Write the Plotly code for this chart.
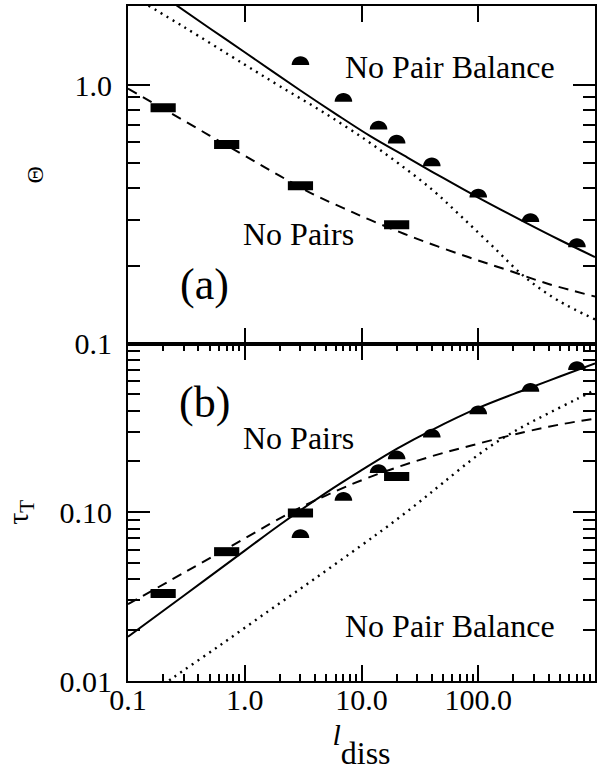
import plotly.graph_objects as go

# ---------------- data ----------------
# panel (a): Theta versus l_diss
theta_solid_x = [0.2, 0.5, 1, 3, 6, 12, 25, 50, 100, 250, 500, 1000]
theta_solid_y = [2.21, 1.66, 1.34, 0.953, 0.774, 0.633, 0.523, 0.437, 0.367, 0.295, 0.2515, 0.216]

theta_dotted_x = [0.15, 0.3, 1, 2, 4.6, 10.8, 20.8, 40, 70, 130, 250, 480, 1000]
theta_dotted_y = [2.03, 1.68, 1.20, 0.99, 0.79, 0.615, 0.497, 0.395, 0.313, 0.240, 0.181, 0.147, 0.124]

theta_dashed_x = [0.1, 0.2, 0.5, 1, 2, 4, 7, 12, 30, 82, 180, 400, 1000]
theta_dashed_y = [0.97, 0.81, 0.638, 0.533, 0.445, 0.375, 0.334, 0.300, 0.254, 0.216, 0.192, 0.170, 0.152]

# panel (b): tau_T versus l_diss
tau_solid_x = [0.1, 0.3, 1, 2, 5, 10, 20, 40, 100, 250, 500, 1000]
tau_solid_y = [0.0183, 0.032, 0.0592, 0.0843, 0.1308, 0.1775, 0.2375, 0.307, 0.415, 0.532, 0.637, 0.763]

tau_dashed_x = [0.1, 0.3, 1, 2.5, 5, 11.6, 37.6, 100, 250, 500, 1000]
tau_dashed_y = [0.0285, 0.0437, 0.070, 0.100, 0.126, 0.161, 0.212, 0.255, 0.299, 0.331, 0.359]

tau_dotted_x = [0.2, 0.25, 0.6, 1.6, 4, 10, 17, 30, 50, 100, 160, 250, 400, 700, 1000]
tau_dotted_y = [0.0095, 0.0106, 0.0161, 0.026, 0.0405, 0.0637, 0.0832, 0.1124, 0.1496, 0.219, 0.273, 0.326, 0.386, 0.469, 0.531]

# simulation points: "No Pair Balance" (half discs) and "No Pairs" (bars)
npb_x = [3, 7, 14, 20, 40, 100, 280, 700]
npb_theta = [1.195, 0.862, 0.673, 0.594, 0.485, 0.367, 0.295, 0.236]
npb_tau = [0.0703, 0.117, 0.171, 0.206, 0.277, 0.381, 0.518, 0.697]

np_x = [0.2, 0.7, 3, 20]
np_theta = [0.817, 0.589, 0.408, 0.288]
np_tau = [0.033, 0.0584, 0.099, 0.163]

x_tickvals = [0.1, 1, 10, 100]
x_ticktext = ["0.1", "1.0", "10.0", "100.0"]
theta_tickvals = [0.1, 1]
theta_ticktext = ["0.1", "1.0"]
tau_tickvals = [0.01, 0.1]
tau_ticktext = ["0.01", "0.10"]

# ---------------- figure ----------------
FONT = "Liberation Serif, DejaVu Serif, serif"
fig = go.Figure()

def add_curve(x, y, dash, width, ya):
    fig.add_trace(go.Scatter(x=x, y=y, mode="lines", xaxis="x" if ya == "y" else "x2", yaxis=ya,
                             line=dict(color="black", width=width, dash=dash, shape="spline", smoothing=1.0),
                             showlegend=False, hoverinfo="skip"))

add_curve(theta_solid_x, theta_solid_y, "solid", 2, "y2")
add_curve(theta_dotted_x, theta_dotted_y, "2px,5px", 2.4, "y2")
add_curve(theta_dashed_x, theta_dashed_y, "10px,7px", 2, "y2")
add_curve(tau_solid_x, tau_solid_y, "solid", 2, "y")
add_curve(tau_dotted_x, tau_dotted_y, "2px,5px", 2.4, "y")
add_curve(tau_dashed_x, tau_dashed_y, "10px,7px", 2, "y")

bar_marker = dict(symbol="line-ew", size=18, color="black", line=dict(color="black", width=9))
fig.add_trace(go.Scatter(x=np_x, y=np_theta, mode="markers", xaxis="x2", yaxis="y2",
                         marker=bar_marker, showlegend=False, name="No Pairs"))
fig.add_trace(go.Scatter(x=np_x, y=np_tau, mode="markers", xaxis="x", yaxis="y",
                         marker=bar_marker, showlegend=False, name="No Pairs"))

# half-disc markers, anchored at data values, sized in pixels
r = 8.8
k = 0.5523 * r
semi = (f"M{-r:.2f},0 C{-r:.2f},{k:.2f} {-k:.2f},{r:.2f} 0,{r:.2f} "
        f"C{k:.2f},{r:.2f} {r:.2f},{k:.2f} {r:.2f},0 Z")
shapes = []
for xv, yv in zip(npb_x, npb_theta):
    shapes.append(dict(type="path", xref="x2", yref="y2", xsizemode="pixel", ysizemode="pixel",
                       xanchor=xv, yanchor=yv, path=semi, fillcolor="black", line=dict(width=0)))
for xv, yv in zip(npb_x, npb_tau):
    shapes.append(dict(type="path", xref="x", yref="y", xsizemode="pixel", ysizemode="pixel",
                       xanchor=xv, yanchor=yv, path=semi, fillcolor="black", line=dict(width=0)))

def minor_vals(e0, e1):
    return [m * 10 ** e for e in range(e0, e1) for m in range(2, 10)]

common = dict(type="log", showline=True, linewidth=2, linecolor="black", mirror="allticks",
              ticks="inside", tickcolor="black", tickwidth=2, showgrid=False, zeroline=False,
              tickfont=dict(family=FONT, size=30, color="black"))

xtitle = ("<sup><span style='font-size:30px'><i>l</i></span></sup>"
          "<sub><span style='font-size:32px'>diss</span></sub>")

fig.update_layout(
    width=598, height=780,
    margin=dict(l=128, r=1, t=6, b=99),
    paper_bgcolor="white", plot_bgcolor="white",
    font=dict(family=FONT, color="black"),
    showlegend=False,
    shapes=shapes,
    xaxis=dict(common, range=[-1, 3], domain=[0, 1], anchor="y", ticklen=16,
               tickvals=x_tickvals, ticktext=x_ticktext, ticklabelstandoff=-9,
               minor=dict(tickvals=minor_vals(-1, 3), ticks="inside", ticklen=7,
                          tickwidth=1.5, tickcolor="black"),
               title=dict(text=xtitle, font=dict(family=FONT, size=30, color="black"), standoff=22)),
    xaxis2=dict(common, range=[-1, 3], domain=[0, 1], anchor="y2", matches="x", ticklen=16,
                tickvals=x_tickvals, showticklabels=False),
    yaxis=dict(common, range=[-2, 0], domain=[0, 0.5], anchor="x", ticklen=22,
               tickvals=tau_tickvals, ticktext=tau_ticktext, ticklabelstandoff=8,
               minor=dict(tickvals=minor_vals(-2, 0), ticks="inside", ticklen=12,
                          tickwidth=1.5, tickcolor="black"),
               title=dict(text="τ<sub>T</sub>", font=dict(family=FONT, size=30, color="black"),
                          standoff=22)),
    yaxis2=dict(common, range=[-1, 0.306], domain=[0.5, 1], anchor="x2", ticklen=22,
                tickvals=theta_tickvals, ticktext=theta_ticktext, ticklabelstandoff=8,
                minor=dict(tickvals=minor_vals(-1, 0), ticks="inside", ticklen=12,
                           tickwidth=1.5, tickcolor="black"),
                title=dict(text="Θ", font=dict(family=FONT, size=24, color="black"), standoff=24)),
)

ann_font = dict(family=FONT, size=32, color="black")
labels = [
    ("No Pair Balance", 0.690, 0.910, ann_font),
    ("No Pairs", 0.365, 0.662, ann_font),
    ("(a)", 0.164, 0.587, dict(family=FONT, size=44, color="black")),
    ("(b)", 0.164, 0.412, dict(family=FONT, size=44, color="black")),
    ("No Pairs", 0.365, 0.360, ann_font),
    ("No Pair Balance", 0.690, 0.081, ann_font),
]
for text, xp, yp, f in labels:
    fig.add_annotation(text=text, x=xp, y=yp, xref="paper", yref="paper",
                       xanchor="center", yanchor="middle", showarrow=False, font=f)

fig.write_html("out.html", config={"displayModeBar": False},
               post_script="document.body.style.margin='0px';")
